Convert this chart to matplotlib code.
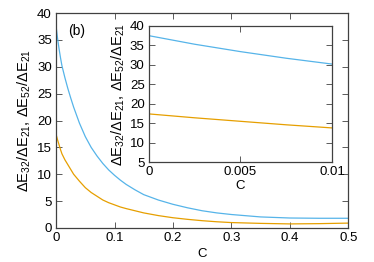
import matplotlib
matplotlib.use("Agg")
import matplotlib.pyplot as plt

C = [0, 0.0025, 0.005, 0.0075, 0.01, 0.015, 0.02, 0.025, 0.03, 0.04, 0.05, 0.06, 0.07,
     0.08, 0.09, 0.1, 0.11, 0.12, 0.135, 0.15, 0.175, 0.2, 0.225, 0.25, 0.275, 0.3,
     0.35, 0.4, 0.45, 0.5]
ratio32 = [17.4, 16.4, 15.5, 14.6, 13.8, 12.7, 11.8, 10.9, 10.0, 8.7, 7.5, 6.6, 5.9,
           5.2, 4.7, 4.3, 3.9, 3.6, 3.2, 2.8, 2.3, 1.9, 1.6, 1.35, 1.15, 1.0,
           0.85, 0.75, 0.8, 0.9]
ratio52 = [37.5, 35.3, 33.4, 31.7, 30.2, 28.0, 26.0, 24.2, 22.5, 19.5, 17.0, 15.0, 13.4,
           12.0, 10.8, 9.8, 8.9, 8.1, 7.1, 6.2, 5.2, 4.4, 3.75, 3.2, 2.8, 2.5,
           2.05, 1.85, 1.8, 1.8]

main_xticks = [0, 0.1, 0.2, 0.3, 0.4, 0.5]
main_xticklabels = ["0", "0.1", "0.2", "0.3", "0.4", "0.5"]
main_yticks = [0, 5, 10, 15, 20, 25, 30, 35, 40]
inset_xticks = [0, 0.005, 0.01]
inset_xticklabels = ["0", "0.005", "0.01"]
inset_yticks = [5, 10, 15, 20, 25, 30, 35, 40]

ylabel = r"$\Delta$E$_{32}$/$\Delta$E$_{21}$, $\Delta$E$_{52}$/$\Delta$E$_{21}$"

plt.rcParams['font.family'] = ['Liberation Sans', 'DejaVu Sans']
plt.rcParams['mathtext.fontset'] = 'custom'
plt.rcParams['mathtext.rm'] = 'Liberation Sans'
plt.rcParams['mathtext.it'] = 'Liberation Sans'

blue = '#56B4E9'
orange = '#E69F00'
frame = '#404040'
fs = 9.5
lfs = 10.5

fig = plt.figure(figsize=(3.74, 2.62), dpi=100)

def style(ax):
    for s in ax.spines.values():
        s.set_color(frame)
        s.set_linewidth(0.9)
    ax.tick_params(direction='in', top=True, right=True, length=4, width=0.6,
                   color=frame, labelsize=fs, pad=3)

ax = fig.add_axes([0.150, 0.130, 0.781, 0.820])
ax.plot(C, ratio52, color=blue, lw=0.9)
ax.plot(C, ratio32, color=orange, lw=0.9)
ax.set_xlim(0, 0.5)
ax.set_ylim(0, 40)
ax.set_xticks(main_xticks)
ax.set_xticklabels(main_xticklabels)
ax.set_yticks(main_yticks)
style(ax)
ax.set_xlabel("C", fontsize=fs, labelpad=3)
ax.set_ylabel(ylabel, fontsize=lfs, labelpad=3)
ax.text(0.04, 0.915, "(b)", transform=ax.transAxes, fontsize=fs + 0.5, va='center', ha='left')

axi = fig.add_axes([0.398, 0.381, 0.490, 0.520])
axi.plot(C, ratio52, color=blue, lw=0.9)
axi.plot(C, ratio32, color=orange, lw=0.9)
axi.set_xlim(0, 0.01)
axi.set_ylim(5, 40)
axi.set_xticks(inset_xticks)
axi.set_xticklabels(inset_xticklabels)
axi.set_yticks(inset_yticks)
style(axi)
axi.set_xlabel("C", fontsize=fs, labelpad=1)
axi.set_ylabel(ylabel, fontsize=lfs, labelpad=2)

fig.savefig("out.png", dpi=100)
